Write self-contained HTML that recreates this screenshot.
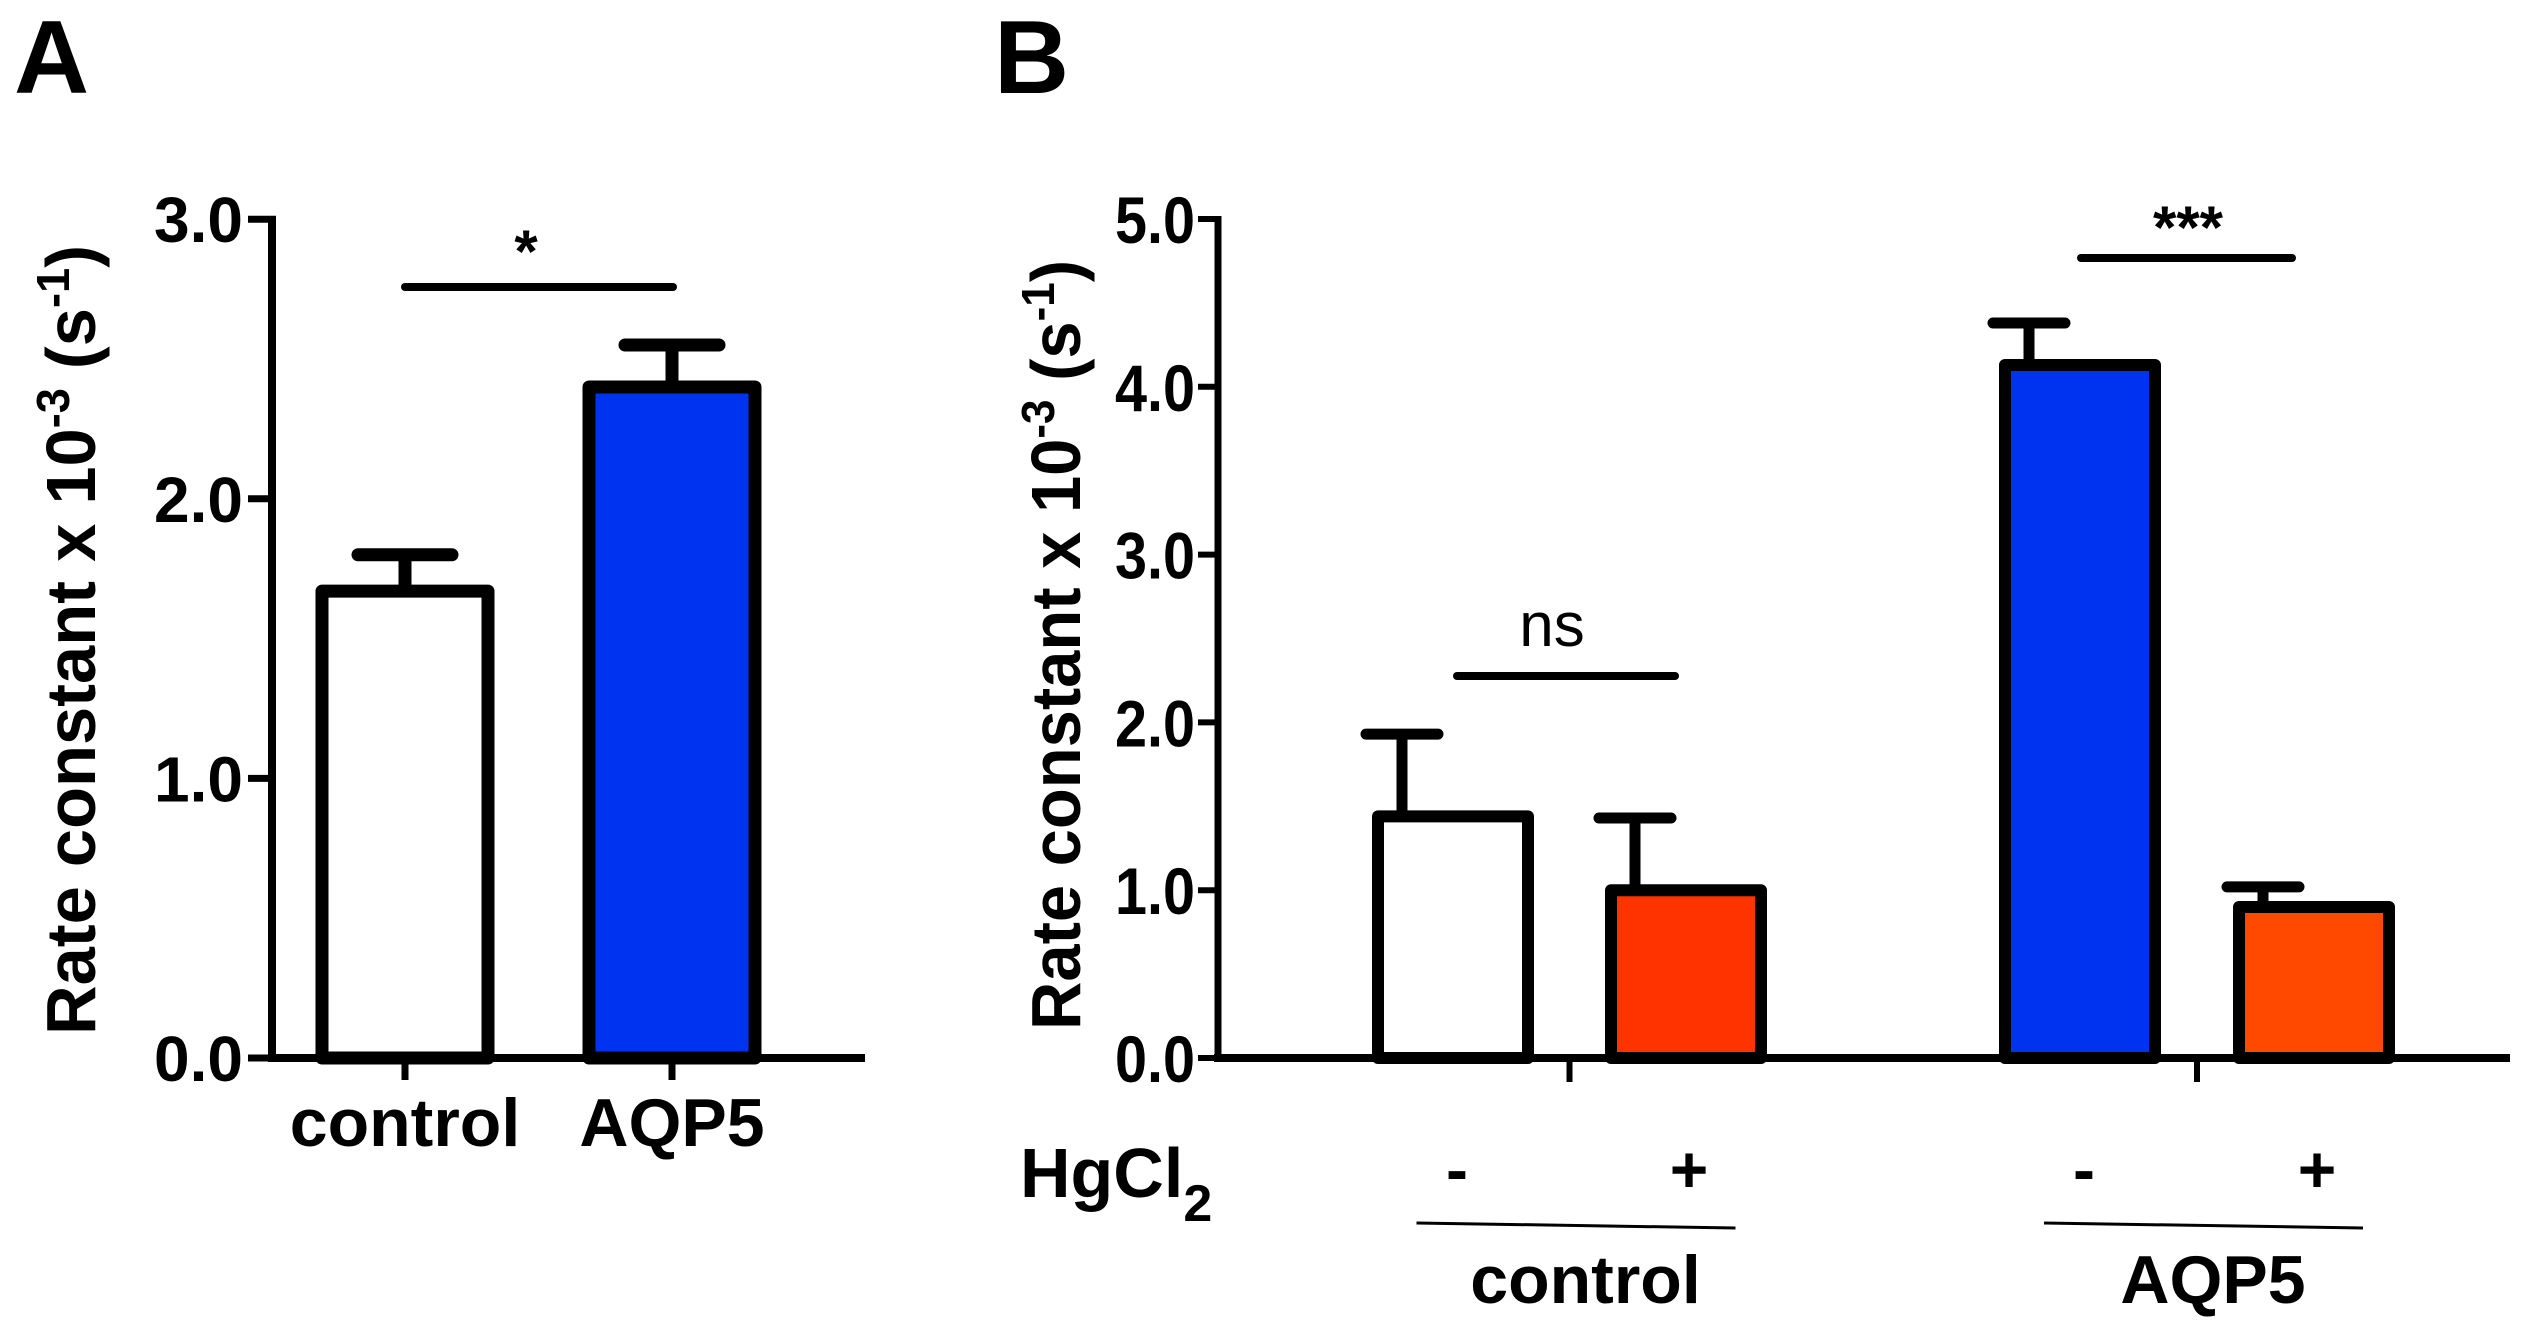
<!DOCTYPE html>
<html><head><meta charset="utf-8"><style>
html,body{margin:0;padding:0;background:#fff}
svg{display:block}
text{font-family:"Liberation Sans",Arial,sans-serif;font-weight:bold;fill:#000}
</style></head><body>
<svg id="fig" width="2530" height="1331" viewBox="0 0 2530 1331">
<text x="14" y="93" font-size="104">A</text>
<text x="994" y="93" font-size="104">B</text>
<g id="pa"></g>
<g id="pb"></g>
<text transform="translate(95,640) rotate(-90)" text-anchor="middle" font-size="70" textLength="790" lengthAdjust="spacingAndGlyphs">Rate constant x 10<tspan dy="-26" font-size="46">-3</tspan><tspan dy="26"> (s</tspan><tspan dy="-26" font-size="46">-1</tspan><tspan dy="26">)</tspan></text>
<text transform="translate(1080,645) rotate(-90)" text-anchor="middle" font-size="70" textLength="770" lengthAdjust="spacingAndGlyphs">Rate constant x 10<tspan dy="-26" font-size="46">-3</tspan><tspan dy="26"> (s</tspan><tspan dy="-26" font-size="46">-1</tspan><tspan dy="26">)</tspan></text>
<text x="1020" y="1197" font-size="70">HgCl<tspan dy="24" font-size="52">2</tspan></text>
</svg>
<script>
const aCats=["control","AQP5"];
const aVals=[1.67,2.40];
const aErr=[1.80,2.55];
const aTicks=["0.0","1.0","2.0","3.0"];
const bVals=[1.44,1.00,4.13,0.90];
const bErr=[1.93,1.43,4.38,1.02];
const bTreat=["-","+","-","+"];
const bGroups=["control","AQP5"];
const bTicks=["0.0","1.0","2.0","3.0","4.0","5.0"];
const NS="http://www.w3.org/2000/svg";
function mk(p,t,a){const e=document.createElementNS(NS,t);for(const k in a)e.setAttribute(k,a[k]);p.appendChild(e);return e;}
// Panel A
const pa=document.getElementById('pa');
const ya=v=>1058-v*279.6;
const aCenters=[405,672], aW=178;
mk(pa,'line',{x1:272,y1:ya(0)+3,x2:272,y2:ya(3)-3,stroke:'#000','stroke-width':8});
mk(pa,'line',{x1:268,y1:ya(0),x2:865,y2:ya(0),stroke:'#000','stroke-width':8});
aTicks.forEach((t,i)=>{const v=parseFloat(t);
 const l=mk(pa,'line',{x1:248,y1:ya(v),x2:276,y2:ya(v),stroke:'#000','stroke-width':7});
 
 const tx=mk(pa,'text',{x:243,y:ya(v)+23,'text-anchor':'end','font-size':64});tx.textContent=t;
 });
const aFill=['#ffffff','#0033f0'];
aVals.forEach((v,i)=>{const c=aCenters[i];
 const er=mk(pa,'path',{d:`M${c} ${ya(v)} V${ya(aErr[i])} M${c-47} ${ya(aErr[i])} H${c+47}`,stroke:'#000','stroke-width':13,'stroke-linecap':'round',fill:'none'});
 
 const r=mk(pa,'rect',{x:c-aW/2+6,y:ya(v),width:aW-12,height:ya(0)-ya(v),fill:aFill[i],stroke:'#000','stroke-width':13,'stroke-linejoin':'round'});
 
 const tk=mk(pa,'line',{x1:c,y1:ya(0),x2:c,y2:ya(0)+22,stroke:'#000','stroke-width':7});
 
 const lb=mk(pa,'text',{x:c,y:1146,'text-anchor':'middle','font-size':68});lb.textContent=aCats[i];
 });
let s=mk(pa,'line',{x1:405,y1:287,x2:673,y2:287,stroke:'#000','stroke-width':8,'stroke-linecap':'round'});

s=mk(pa,'text',{x:526,y:272,'text-anchor':'middle','font-size':60});s.textContent='*';

// Panel B
const pb=document.getElementById('pb');
const yb=v=>1058-v*167.8;
const bCenters=[1453,1686,2080,2314], bW=162;
mk(pb,'line',{x1:1218,y1:yb(0)+3,x2:1218,y2:yb(5)-3,stroke:'#000','stroke-width':7});
mk(pb,'line',{x1:1214,y1:yb(0),x2:2510,y2:yb(0),stroke:'#000','stroke-width':8});
bTicks.forEach(t=>{const v=parseFloat(t);
 const l=mk(pb,'line',{x1:1198,y1:yb(v),x2:1221,y2:yb(v),stroke:'#000','stroke-width':6});
 
 const tx=mk(pb,'text',{x:1195,y:yb(v)+24,'text-anchor':'end','font-size':66,textLength:80,lengthAdjust:'spacingAndGlyphs'});tx.textContent=t;
 });
const bFill=['#ffffff','#ff3300','#0033f0','#ff4800'];
bVals.forEach((v,i)=>{const c=bCenters[i];
 const er=mk(pb,'path',{d:`M${c-bW/2+30} ${yb(v)} V${yb(bErr[i])} M${c-bW/2+30-36} ${yb(bErr[i])} H${c-bW/2+30+36}`,stroke:'#000','stroke-width':11,'stroke-linecap':'round',fill:'none'});
 
 const r=mk(pb,'rect',{x:c-bW/2+6,y:yb(v),width:bW-12,height:yb(0)-yb(v),fill:bFill[i],stroke:'#000','stroke-width':12,'stroke-linejoin':'round'});
 
 const tl=mk(pb,'text',{x:c+(i%2?3:4),y:1192,'text-anchor':'middle','font-size':66});tl.textContent=bTreat[i];
 });
bGroups.forEach((g,j)=>{const c=(bCenters[2*j]+bCenters[2*j+1])/2;
 const tk=mk(pb,'line',{x1:c,y1:yb(0),x2:c,y2:yb(0)+24,stroke:'#000','stroke-width':6});
 
 const ln=mk(pb,'line',{x1:c-153,y1:1223,x2:c+166,y2:1228,stroke:'#000','stroke-width':3});
 
 const lb=mk(pb,'text',{x:c+16,y:1303,'text-anchor':'middle','font-size':68});lb.textContent=g;
 });
s=mk(pb,'line',{x1:1457,y1:676,x2:1675,y2:676,stroke:'#000','stroke-width':8,'stroke-linecap':'round'});

s=mk(pb,'text',{x:1552,y:646,'text-anchor':'middle','font-size':62,style:'font-weight:normal'});s.textContent='ns';

s=mk(pb,'line',{x1:2081,y1:258,x2:2292,y2:258,stroke:'#000','stroke-width':8,'stroke-linecap':'round'});

s=mk(pb,'text',{x:2188,y:248,'text-anchor':'middle','font-size':60});s.textContent='***';

</script>
</body></html>
